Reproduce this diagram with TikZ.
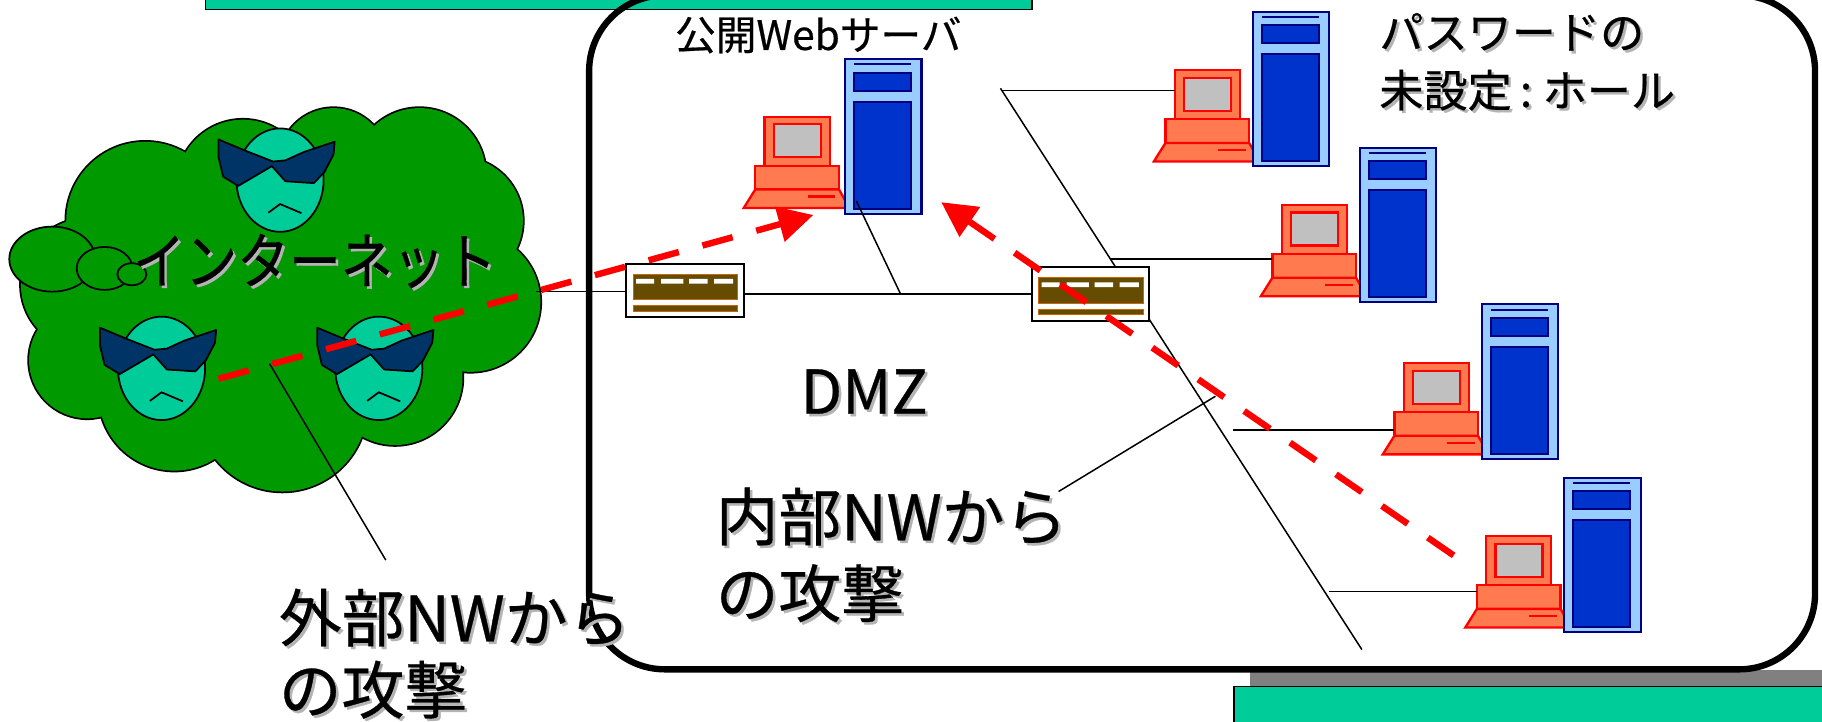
\documentclass[tikz,border=0pt]{standalone}
\usepackage{fontspec}
\setmainfont[FakeBold=0.5]{Noto Sans CJK JP}
\newfontfamily\tallfont[FakeStretch=0.85,FakeBold=0.5]{Noto Sans CJK JP}
\usetikzlibrary{arrows.meta}

\definecolor{barteal}{HTML}{00CC99}
\definecolor{barshadow}{HTML}{808080}
\definecolor{cloudgreen}{HTML}{009900}
\definecolor{facecol}{HTML}{00CC99}
\definecolor{shadescol}{HTML}{003366}
\definecolor{caselight}{HTML}{99CCFF}
\definecolor{casedark}{HTML}{0033CC}
\definecolor{caseedge}{HTML}{000080}
\definecolor{lapcol}{HTML}{FF7B4F}
\definecolor{screencol}{HTML}{C0C0C0}
\definecolor{routerfill}{HTML}{664C00}
\definecolor{routeredge}{HTML}{CC6600}
\definecolor{shadowgray}{HTML}{B4B4B4}

% text with a soft grey drop shadow: name, position, style, text
\newcommand\dropshadowtext[4]{%
  \node[#3,text=shadowgray,xshift=2.2pt,yshift=-2.2pt] (#1-sh) at #2 {#4};
  \node[#3] (#1) at #2 {#4};}

\tikzset{
  wire/.style={draw=black,line width=1.3pt},
  attack/.style={draw=red,line width=5.5pt,dash pattern=on 27pt off 21pt,
                 -{Triangle[length=30pt,width=30pt]}},
  bubble/.style={draw=black,fill=cloudgreen,line width=1.5pt},
  facestyle/.style={draw=black,fill=facecol,line width=1.5pt},
  shadesstyle/.style={draw=black,fill=shadescol,line width=1.5pt,line join=round},
  lapbody/.style={draw=red,fill=lapcol,line width=2pt},
  lapscreen/.style={draw=red,fill=screencol,line width=2pt},
  srvcase/.style={draw=caseedge,fill=caselight,line width=1.8pt},
  srvbay/.style={draw=caseedge,fill=casedark,line width=1.8pt},
  routerbox/.style={draw=black,fill=white,line width=1.8pt,minimum width=101pt,
                    minimum height=46pt,inner sep=0pt,outer sep=0pt},
  routerbar/.style={draw=routeredge,fill=routerfill,line width=1pt},
  lbl/.style={inner sep=0pt,outer sep=0pt,anchor=base west},
  biglbl/.style={lbl,font=\fontsize{54}{64}\selectfont},
  midlbl/.style={lbl,font=\fontsize{38}{46}\selectfont},
  % client PC: origin at the lower left of the keyboard
  laptop/.pic={
    \path[lapbody] (10,-36.4) rectangle (82,-16);
    \path[lapbody] (10,-16) -- (82,-16) -- (91,0) -- (0,0) -- cycle;
    \path[lapbody] (18,-78.6) rectangle (74,-36.4);
    \path[lapscreen] (26,-72) rectangle (66.5,-43.6);
    \draw[red,line width=2pt] (55,-10) -- (79,-10);
    \coordinate (-mon) at (18,-57);
    \coordinate (-body) at (10,-26);
  },
  % tower server: origin at the upper left corner
  server/.pic={
    \path[srvcase] (0,0) rectangle (66,133);
    \draw[caseedge,line width=1.8pt] (8,4.4) -- (57,4.4);
    \path[srvbay] (8,11.5) rectangle (57,27.3);
    \path[srvbay] (8,36.8) rectangle (57,128.6);
  },
  % hub: origin at the upper left corner
  router/.pic={
    \node[routerbox] (-box) at (50.5,23) {};
    \path[routerbar] (6,9) rectangle (96,31);
    \fill[white] (8.5,13) rectangle (24,17) (30,13) rectangle (49,17)
                 (54,13) rectangle (70,17) (75.5,13) rectangle (92,17);
    \path[routerbar] (6,36) rectangle (96,41);
  },
  % masked attacker: origin at the centre of the face
  hacker/.pic={
    \path[facestyle] (0,0) ellipse (37.5 and 44.5);
    \path[shadesstyle] (-53,-35) -- (-53,-20) -- (-49,-3) -- (-36,5) -- (-7,-12)
       -- (4.6,1) -- (29,2.6) -- (38,-6.6) -- (46,-22) -- (47,-33)
       -- (20,-24) -- (4.6,-17) -- (-6,-16) -- (-29,-25) -- cycle;
    \draw[black,line width=1.5pt] (-10,28) -- (0,20.6) -- (18.4,28.4);
  }
}

\begin{document}
\begin{tikzpicture}[x=1pt,y=-1pt]
\useasboundingbox (0,0) rectangle (1568,621);
\clip (0,0) rectangle (1568,621);

% panels at the page edges
\fill[barshadow] (1076,577) rectangle (1580,591);
\filldraw[fill=barteal,draw=black,line width=1.2pt] (1062,591) rectangle (1580,630);
\filldraw[fill=barteal,draw=black,line width=1.2pt] (177,-12) rectangle (888,8);

% DMZ enclosure
\draw[black,line width=5.5pt,rounded corners=65pt] (507,-4) rectangle (1562,576);

% Internet cloud: outline first, then the fill hides the inner parts
\foreach \cx/\cy/\r in {125/190/68,209/160/57,287/140/47,361/150/57,395/190/55,
                        405/260/60,340/325/58,243/350/73,150/340/65,75/310/50,
                        75/245/57,250/250/110,140/265/55}
  \draw[black,line width=3pt] (\cx,\cy) circle (\r);
\foreach \cx/\cy/\r in {125/190/68,209/160/57,287/140/47,361/150/57,395/190/55,
                        405/260/60,340/325/58,243/350/73,150/340/65,75/310/50,
                        75/245/57,250/250/110,140/265/55}
  \fill[cloudgreen] (\cx,\cy) circle (\r);
\path[bubble] (45,223) ellipse (37 and 28);
\path[bubble] (90,231) ellipse (24 and 18.5);
\path[bubble] (113.5,236) ellipse (12.5 and 9.5);

\pic (h1) at (241,155) {hacker};
\pic (h2) at (139,317) {hacker};
\pic (h3) at (326,317) {hacker};

% junction points of the wiring
\coordinate (cloud-east) at (461,251);
\coordinate (tap1) at (775,253);
\coordinate (web-foot) at (737,173);
\coordinate (bus-top) at (861,76);
\coordinate (bus-bot) at (1172,559);
\coordinate (br1) at (862,78);
\coordinate (br2) at (956,223);
\coordinate (br3) at (1061,370);
\coordinate (br4) at (1144,509);
\coordinate (int-pt) at (1046,341);
\coordinate (int-end) at (911,423);
\coordinate (ext-pt) at (232,313);
\coordinate (ext-end) at (332,482);

\pic (r1) at (539,227) {router};

% internal segment bus (behind the second hub)
\draw[wire] (bus-top) -- (bus-bot);
\pic (r2) at (888,230) {router};

\draw[wire] (cloud-east) -- (cloud-east -| r1-box.west);
\draw[wire] (r1-box.east |- tap1) -- (tap1) -- (tap1 -| r2-box.west);

% servers and clients
\pic (web-pc) at (640,179) {laptop};
\pic (web-srv) at (727,51) {server};
\pic (pc1) at (993,139) {laptop};
\pic (srv1) at (1078,10) {server};
\pic (pc2) at (1085,255) {laptop};
\pic (srv2) at (1170,127) {server};
\pic (pc3) at (1190,391) {laptop};
\pic (srv3) at (1275,262) {server};
\pic (pc4) at (1261,540) {laptop};
\pic (srv4) at (1346,411) {server};

\draw[wire] (br1) -- (br1 -| pc1-mon);
\draw[wire] (br2) -- (br2 -| pc2-body);
\draw[wire] (br3) -- (br3 -| pc3-body);
\draw[wire] (br4) -- (br4 -| pc4-body);
\draw[wire] (web-foot) -- (tap1);

% callout leaders
\draw[wire] (int-pt) -- (int-end);
\draw[wire] (ext-pt) -- (ext-end);

% attack paths
\coordinate (ext-start) at (188,326);
\coordinate (ext-tip) at (700,185);
\coordinate (int-start) at (1251,478);
\coordinate (int-tip) at (810,174);
\draw[attack] (ext-start) -- (ext-tip);
\draw[attack] (int-start) -- (int-tip);

% labels
\dropshadowtext{inet}{(271,244)}{lbl,anchor=base,font=\tallfont\fontsize{52.5}{60}\selectfont}{インターネット}
\node[lbl,font=\fontsize{35}{40}\selectfont] (web-lbl) at (581,43) {公開Webサーバ};
\dropshadowtext{pw1}{(1187,42)}{midlbl}{パスワードの}
\dropshadowtext{pw2}{(1187,92)}{midlbl}{未設定\hspace{7pt}:\hspace{9pt}ホール}
\dropshadowtext{dmz}{(689,356)}{lbl,font=\fontsize{52}{60}\selectfont}{DMZ}
\dropshadowtext{int1}{(616,465)}{biglbl}{内部NWから}
\dropshadowtext{int2}{(616,531)}{biglbl}{の攻撃}
\dropshadowtext{ext1}{(240,552)}{biglbl}{外部NWから}
\dropshadowtext{ext2}{(240,614)}{biglbl}{の攻撃}
\end{tikzpicture}
\end{document}
